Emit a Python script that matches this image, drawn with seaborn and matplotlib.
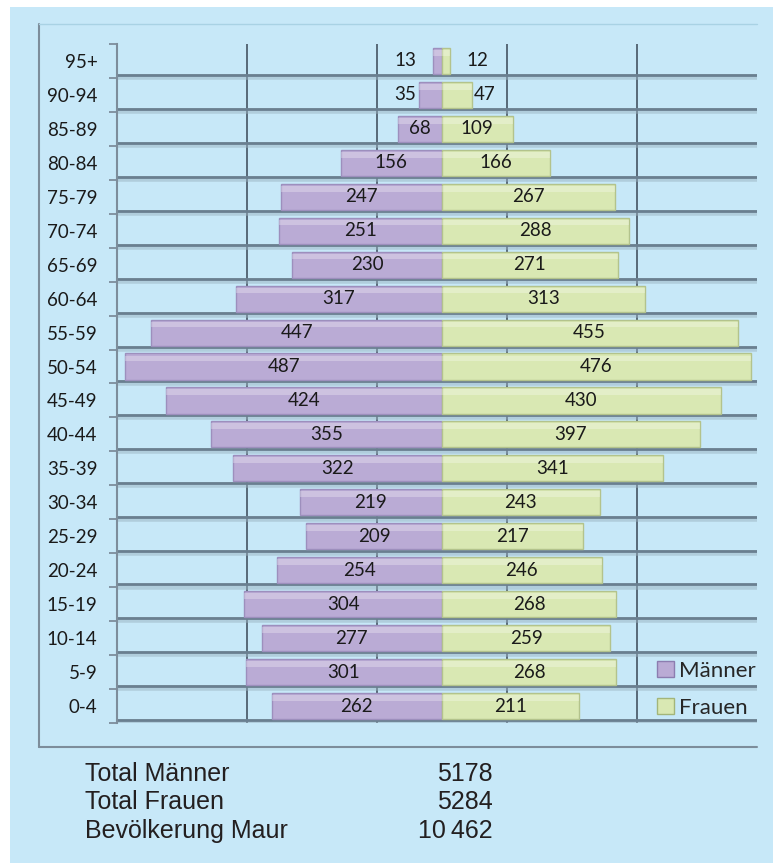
import numpy as np
import pandas as pd
import matplotlib
matplotlib.use("Agg")
import matplotlib.pyplot as plt
from matplotlib.patches import Rectangle, Patch
from matplotlib.lines import Line2D
import seaborn as sns

# ---- data ----
age_groups = ["95+", "90-94", "85-89", "80-84", "75-79", "70-74", "65-69", "60-64",
              "55-59", "50-54", "45-49", "40-44", "35-39", "30-34", "25-29", "20-24",
              "15-19", "10-14", "5-9", "0-4"]
maenner = [13, 35, 68, 156, 247, 251, 230, 317, 447, 487, 424, 355, 322, 219, 209, 254,
           304, 277, 301, 262]
frauen = [12, 47, 109, 166, 267, 288, 271, 313, 455, 476, 430, 397, 341, 243, 217, 246,
          268, 259, 268, 211]
grid_ticks = [-300, -100, 100, 300]
summary_labels = ["Total Männer", "Total Frauen", "Bevölkerung Maur"]
summary_values = ["5178", "5284", "10\u2009462"]

df = pd.DataFrame({"Alter": age_groups, "Männer": maenner, "Frauen": frauen})
df["Männer_neg"] = -df["Männer"]

sns.set_theme(style="white")
plt.rcParams["font.family"] = ["Lato", "DejaVu Sans"]

W, H = 783, 866
fig = plt.figure(figsize=(W / 100, H / 100), dpi=100)
fig.patch.set_facecolor("white")

def fx(px):
    return px / W

def fy(py):
    return 1 - py / H

# light-blue panel
fig.add_artist(Rectangle((fx(10), fy(863)), fx(773) - fx(10), fy(7) - fy(863),
                         transform=fig.transFigure, facecolor="#c7e8f8",
                         edgecolor="none", zorder=0))
# chart frame
fig.add_artist(Line2D([fx(39), fx(39)], [fy(24), fy(747)], transform=fig.transFigure,
                      color="#7d8d9b", lw=1.5, zorder=1))
fig.add_artist(Line2D([fx(39), fx(757)], [fy(747), fy(747)], transform=fig.transFigure,
                      color="#7d8d9b", lw=1.5, zorder=1))
fig.add_artist(Line2D([fx(39), fx(757)], [fy(24), fy(24)], transform=fig.transFigure,
                      color="#a9d2e4", lw=1.0, zorder=1))

ax = fig.add_axes([fx(117), fy(723), fx(757) - fx(117), fy(44) - fy(723)])
ax.set_facecolor("none")

male_col = "#baabd5"
female_col = "#d9e8b3"

sns.barplot(data=df, x="Männer_neg", y="Alter", color=male_col, orient="h",
            width=0.77, edgecolor="#9d8fbd", linewidth=1.0, ax=ax, zorder=3,
            saturation=1)
sns.barplot(data=df, x="Frauen", y="Alter", color=female_col, orient="h",
            width=0.77, edgecolor="#b3c38c", linewidth=1.0, ax=ax, zorder=3,
            saturation=1)

n = len(age_groups)
ax.set_xlim(-500, 485)
ax.set_ylim(n - 0.5, -0.5)

# highlight for a 3D-like look
for p in list(ax.patches):
    x0, y0 = p.get_x(), p.get_y()
    w, h = p.get_width(), p.get_height()
    ax.add_patch(Rectangle((x0, y0 + h * 0.08), w, h * 0.22, facecolor="white",
                           alpha=0.28, edgecolor="none", zorder=3.5))

# vertical gridlines
for g in grid_ticks:
    ax.axvline(g, color="#4f5f6e", lw=1.3, zorder=1)

# horizontal separators (shadowed)
for i in range(1, n + 1):
    yb = i - 0.5 - 0.08
    ax.axhline(yb + 0.06, color="#9bb3c2", lw=4.0, alpha=0.5, zorder=1.5)
    ax.axhline(yb, color="#6a7f90", lw=2.0, zorder=1.6)

LBL = 13.5
# labels
for i, (m, f) in enumerate(zip(maenner, frauen)):
    if m >= 50:
        ax.text(-m / 2, i, str(m), ha="center", va="center", fontsize=LBL,
                color="#1a1a1a", zorder=5)
    else:
        off = -12 if m < 20 else -2
        ax.annotate(str(m), (-m, i), xytext=(off, 0), textcoords="offset points",
                    ha="right", va="center", fontsize=LBL, color="#1a1a1a", zorder=5)
    if f >= 50:
        ax.text(f / 2, i, str(f), ha="center", va="center", fontsize=LBL,
                color="#1a1a1a", zorder=5)
    else:
        off = 12 if f < 20 else 1
        ax.annotate(str(f), (f, i), xytext=(off, 0), textcoords="offset points",
                    ha="left", va="center", fontsize=LBL, color="#1a1a1a", zorder=5)

# axes styling
for s in ["top", "right", "bottom"]:
    ax.spines[s].set_visible(False)
ax.spines["left"].set_color("#7d8d9b")
ax.spines["left"].set_linewidth(1.5)
ax.set_xticks([])
ax.set_xlabel("")
ax.set_ylabel("")
ax.set_yticks(range(n))
ax.set_yticklabels(age_groups)
ax.set_yticks(np.arange(-0.5, n, 1), minor=True)
ax.tick_params(axis="y", which="major", length=0, pad=14, labelsize=LBL,
               labelcolor="#1a1a1a")
ax.tick_params(axis="y", which="minor", length=6, width=1.3, color="#7d8d9b",
               direction="out", left=True)

# legend
handles = [Patch(facecolor=male_col, edgecolor="#8c7db0", label="Männer"),
           Patch(facecolor=female_col, edgecolor="#a3b57a", label="Frauen")]
fig.legend(handles=handles, loc="upper left", bbox_to_anchor=(fx(648), fy(652)),
           frameon=False, fontsize=16, handlelength=0.75, handleheight=0.75,
           handletextpad=0.25, labelspacing=0.75, borderaxespad=0)

# summary text
baselines = [781, 809, 838]
for lab, val, yb in zip(summary_labels, summary_values, baselines):
    fig.text(fx(85), fy(yb), lab, ha="left", va="baseline", fontsize=18,
             family=["Liberation Sans", "DejaVu Sans"], color="#231f20")
    fig.text(fx(493), fy(yb), val, ha="right", va="baseline", fontsize=18,
             family=["Liberation Sans", "DejaVu Sans"], color="#231f20")

fig.savefig("out.png", dpi=100, facecolor="white")
